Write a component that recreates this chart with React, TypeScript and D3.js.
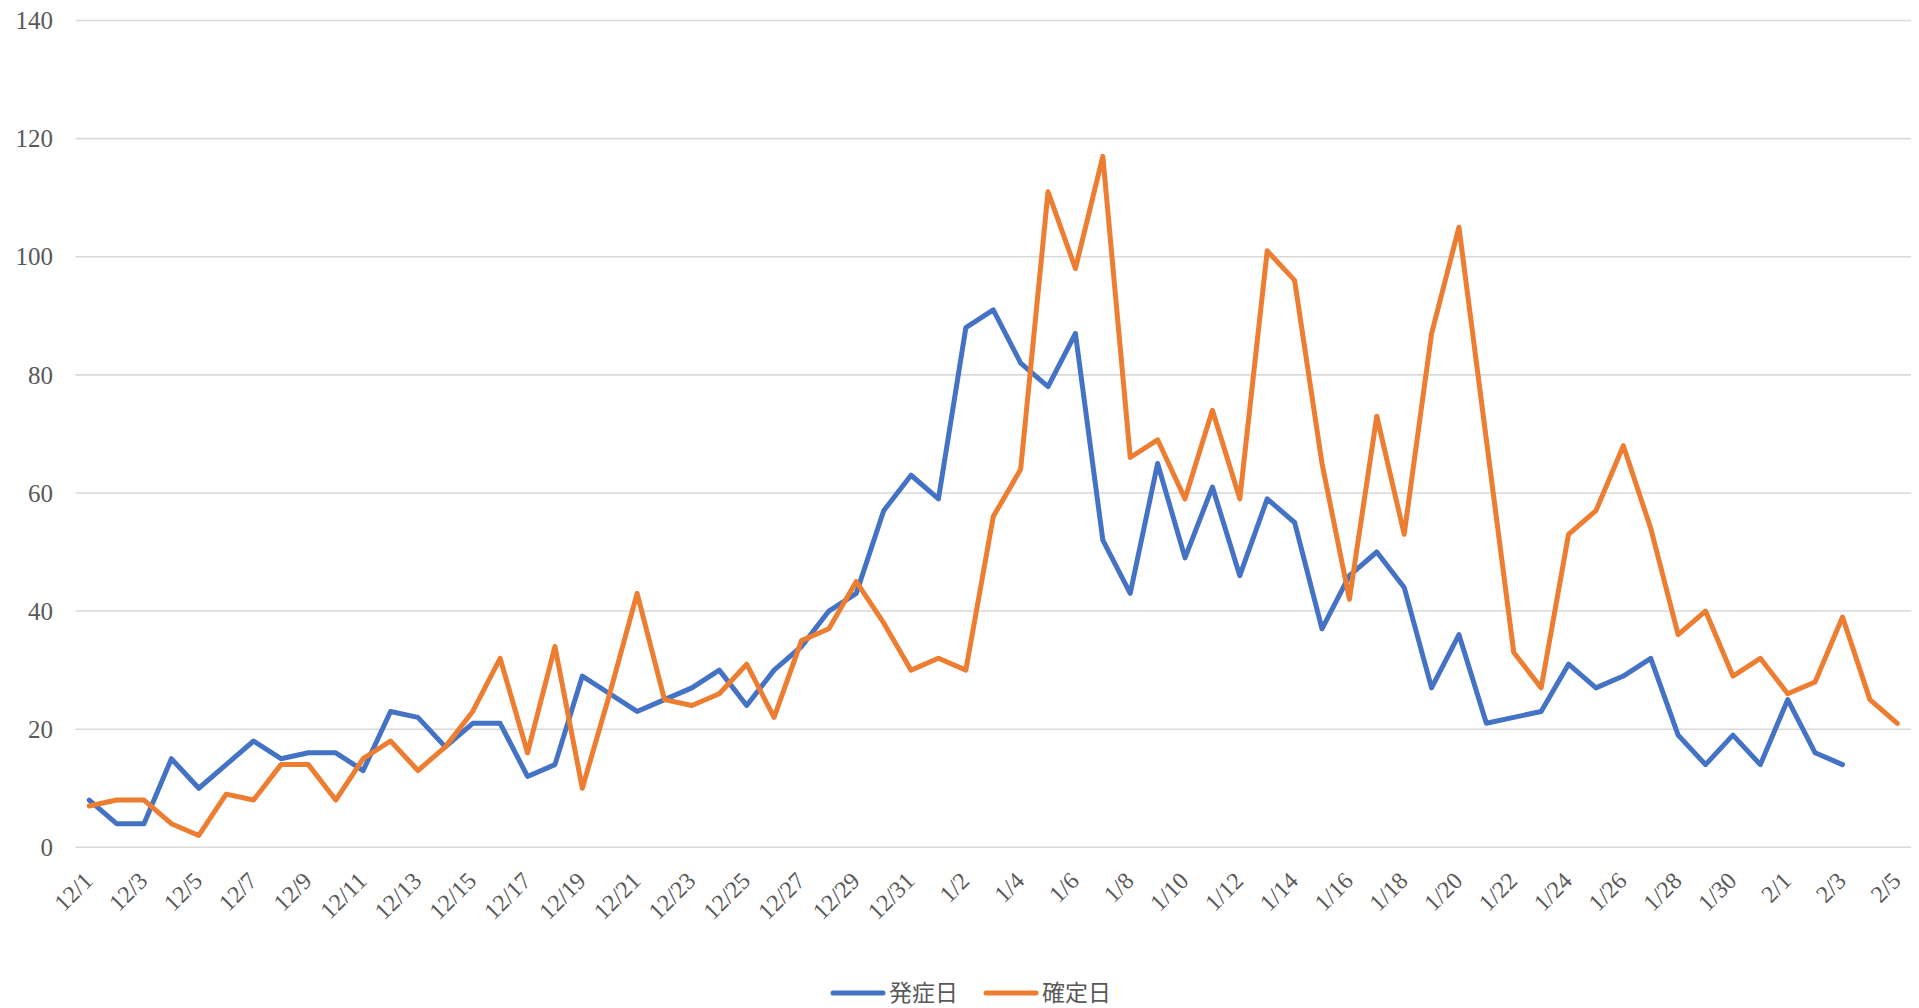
import React, { useEffect, useRef } from 'react'
import * as d3 from 'd3'

// 日付 (12/1 - 2/5)
const dates: string[] = [
  '12/1', '12/2', '12/3', '12/4', '12/5', '12/6', '12/7', '12/8', '12/9', '12/10',
  '12/11', '12/12', '12/13', '12/14', '12/15', '12/16', '12/17', '12/18', '12/19', '12/20',
  '12/21', '12/22', '12/23', '12/24', '12/25', '12/26', '12/27', '12/28', '12/29', '12/30', '12/31',
  '1/1', '1/2', '1/3', '1/4', '1/5', '1/6', '1/7', '1/8', '1/9', '1/10',
  '1/11', '1/12', '1/13', '1/14', '1/15', '1/16', '1/17', '1/18', '1/19', '1/20',
  '1/21', '1/22', '1/23', '1/24', '1/25', '1/26', '1/27', '1/28', '1/29', '1/30', '1/31',
  '2/1', '2/2', '2/3', '2/4', '2/5',
]

// 発症日 (ends at 2/3)
const onset: number[] = [
  8, 4, 4, 15, 10, 14, 18, 15, 16, 16,
  13, 23, 22, 17, 21, 21, 12, 14, 29, 26,
  23, 25, 27, 30, 24, 30, 34, 40, 43, 57, 63,
  59, 88, 91, 82, 78, 87, 52, 43, 65, 49,
  61, 46, 59, 55, 37, 46, 50, 44, 27, 36,
  21, 22, 23, 31, 27, 29, 32, 19, 14, 19, 14,
  25, 16, 14,
]

// 確定日
const confirmed: number[] = [
  7, 8, 8, 4, 2, 9, 8, 14, 14, 8,
  15, 18, 13, 17, 23, 32, 16, 34, 10, 26,
  43, 25, 24, 26, 31, 22, 35, 37, 45, 38, 30,
  32, 30, 56, 64, 111, 98, 117, 66, 69, 59,
  74, 59, 101, 96, 65, 42, 73, 53, 87, 105,
  69, 33, 27, 53, 57, 68, 54, 36, 40, 29, 32,
  26, 28, 39, 25, 21,
]

const yTicks: number[] = [0, 20, 40, 60, 80, 100, 120, 140]

const seriesNames: string[] = ['発症日', '確定日']
const colors: string[] = ['#4472C4', '#ED7D31']

export default function App() {
  const ref = useRef<SVGSVGElement | null>(null)

  useEffect(() => {
    const width = 1919
    const height = 1008
    const margin = { top: 20.5, right: 8, bottom: 160.7, left: 75.5 }

    const svg = d3.select(ref.current)
    svg.selectAll('*').remove()

    const x = d3.scalePoint<string>()
      .domain(dates)
      .range([margin.left, width - margin.right])
      .padding(0.5)

    const y = d3.scaleLinear()
      .domain([0, 140])
      .range([height - margin.bottom, margin.top])

    // gridlines
    svg.append('g')
      .selectAll('line')
      .data(yTicks)
      .join('line')
      .attr('x1', margin.left)
      .attr('x2', width - margin.right)
      .attr('y1', d => y(d))
      .attr('y2', d => y(d))
      .attr('stroke', '#D9D9D9')
      .attr('stroke-width', 1.6)

    // y labels
    svg.append('g')
      .attr('font-family', '"Liberation Serif", "DejaVu Serif", serif')
      .attr('font-size', 25)
      .attr('fill', '#595959')
      .selectAll('text')
      .data(yTicks)
      .join('text')
      .attr('x', 53)
      .attr('y', d => y(d))
      .attr('dy', '0.35em')
      .attr('text-anchor', 'end')
      .text(d => d)

    // x labels every other day
    svg.append('g')
      .attr('font-family', '"Liberation Serif", "DejaVu Serif", serif')
      .attr('font-size', 24)
      .attr('fill', '#595959')
      .selectAll('text')
      .data(dates.filter((d, i) => i % 2 === 0))
      .join('text')
      .attr('text-anchor', 'end')
      .attr('transform', d => `translate(${(x(d) as number) + 5},${y(0) + 35}) rotate(-45)`)
      .text(d => d)

    const line = d3.line<number>()
      .x((d, i) => x(dates[i]) as number)
      .y(d => y(d))

    const seriesData = [onset, confirmed]

    svg.append('g')
      .selectAll('path')
      .data(seriesData)
      .join('path')
      .attr('d', d => line(d))
      .attr('fill', 'none')
      .attr('stroke', (d, i) => colors[i])
      .attr('stroke-width', 5)
      .attr('stroke-linejoin', 'round')
      .attr('stroke-linecap', 'round')

    // legend
    const legend = svg.append('g')
      .attr('font-family', '"Noto Sans CJK JP", sans-serif')
      .attr('font-size', 23)
      .attr('fill', '#595959')
    const legendY = 993
    const legendX = [833, 986]
    seriesNames.forEach((name, i) => {
      legend.append('line')
        .attr('x1', legendX[i])
        .attr('x2', legendX[i] + 50)
        .attr('y1', legendY)
        .attr('y2', legendY)
        .attr('stroke', colors[i])
        .attr('stroke-width', 5)
        .attr('stroke-linecap', 'round')
      legend.append('text')
        .attr('x', legendX[i] + 56)
        .attr('y', legendY)
        .attr('dy', '0.35em')
        .text(name)
    })
  }, [])

  return (
    <svg
      ref={ref}
      width={1919}
      height={1008}
      style={{ position: 'absolute', left: 0, top: 0, background: '#fff' }}
    />
  )
}
